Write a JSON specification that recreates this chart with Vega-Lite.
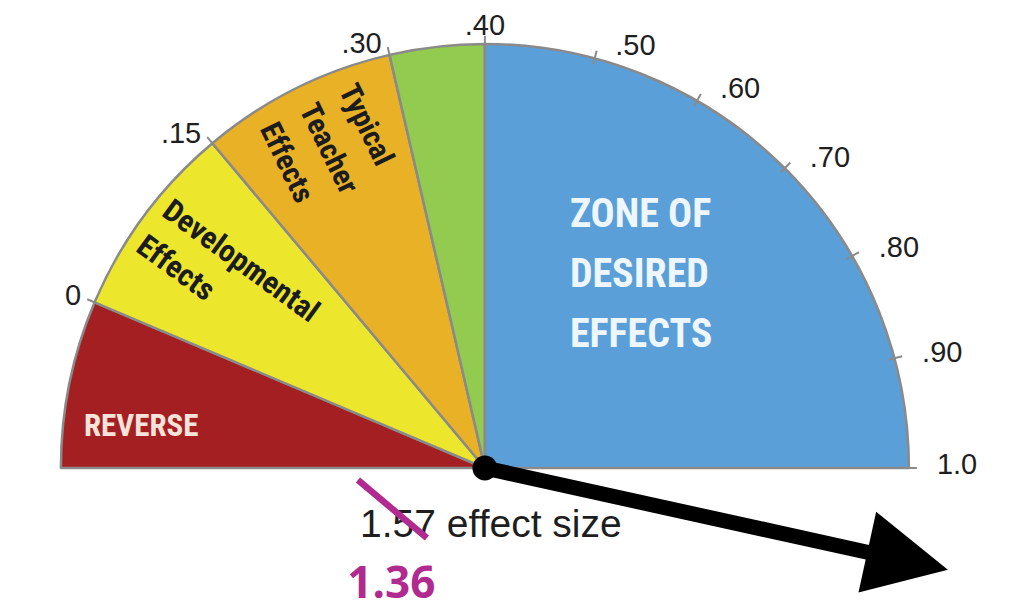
{
  "$schema": "https://vega.github.io/schema/vega-lite/v6.json",
  "width": 1022,
  "height": 611,
  "autosize": {"type": "fit", "contains": "padding"},
  "padding": 0,
  "background": "white",
  "config": {"view": {"stroke": null}},
  "datasets": {
    "zones": [
      {"zone": "Reverse", "from": -0.2, "to": 0, "label": "REVERSE"},
      {"zone": "Developmental", "from": 0, "to": 0.15, "label": ["Developmental", "Effects"]},
      {"zone": "Typical Teacher", "from": 0.15, "to": 0.3, "label": ["Typical", "Teacher", "Effects"]},
      {"zone": "Hinge", "from": 0.3, "to": 0.4, "label": ""},
      {"zone": "Desired", "from": 0.4, "to": 1.0, "label": ["ZONE OF", "DESIRED", "EFFECTS"]}
    ],
    "ticks": [
      {"v": 0, "label": "0"},
      {"v": 0.15, "label": ".15"},
      {"v": 0.3, "label": ".30"},
      {"v": 0.4, "label": ".40"},
      {"v": 0.5, "label": ".50"},
      {"v": 0.6, "label": ".60"},
      {"v": 0.7, "label": ".70"},
      {"v": 0.8, "label": ".80"},
      {"v": 0.9, "label": ".90"},
      {"v": 1.0, "label": "1.0"}
    ],
    "needle": [
      {"what": "1.57 effect size", "x": 0, "y": 0, "x_end": 0.9229, "y_end": -0.2033, "x_head": 0.9877, "y_head": -0.2173}
    ],
    "notes": [
      {"what": "old", "text": "1.57 effect size", "x": 0.014, "y": -0.1612},
      {"what": "new", "text": "1.36", "x": -0.2185, "y": -0.3037}
    ],
    "strike": [
      {"x": -0.2967, "y": -0.028, "x2": -0.1355, "y2": -0.1636}
    ]
  },
  "layer": [
    {
      "data": {"name": "zones"},
      "mark": {"type": "arc", "outerRadius": 424, "innerRadius": 0, "stroke": "#8a8a8a", "strokeWidth": 2.5, "strokeJoin": "round"},
      "encoding": {
        "x": {"datum": 0, "type": "quantitative", "scale": {"domain": [-1.133, 1.255], "nice": false, "zero": false}, "axis": null},
        "y": {"datum": 0, "type": "quantitative", "scale": {"domain": [-0.3341, 1.0935], "nice": false, "zero": false}, "axis": null},
        "theta": {"field": "from", "type": "quantitative", "stack": null, "scale": {"type": "linear", "domain": [-0.2, 0, 0.15, 0.3, 0.4, 1.0], "range": [-1.5708, -1.1694, -0.6981, -0.2269, 0, 1.5708], "nice": false, "zero": false}},
        "theta2": {"field": "to"},
        "fill": {"field": "zone", "type": "nominal", "legend": null, "scale": {"domain": ["Reverse", "Developmental", "Typical Teacher", "Hinge", "Desired"], "range": ["#a41f22", "#ece72c", "#e8b126", "#92cb4f", "#5b9fd9"]}}
      }
    },
    {
      "data": {"name": "ticks"},
      "mark": {"type": "arc", "outerRadius": 432, "innerRadius": 418, "stroke": "#8a8a8a", "strokeWidth": 2, "fill": null},
      "encoding": {
        "x": {"datum": 0, "type": "quantitative", "axis": null},
        "y": {"datum": 0, "type": "quantitative", "axis": null},
        "theta": {"field": "v", "type": "quantitative", "stack": null},
        "theta2": {"field": "v"}
      }
    },
    {
      "data": {"name": "ticks"},
      "transform": [{"filter": "datum.v < 0.4"}],
      "mark": {"type": "text", "radius": 432, "align": "right", "baseline": "middle", "dx": -6, "dy": -3, "font": "Liberation Sans", "fontSize": 29, "fill": "#1e1e1e"},
      "encoding": {
        "x": {"datum": 0, "type": "quantitative", "axis": null},
        "y": {"datum": 0, "type": "quantitative", "axis": null},
        "theta": {"field": "v", "type": "quantitative", "stack": null},
        "text": {"field": "label", "type": "nominal"}
      }
    },
    {
      "data": {"name": "ticks"},
      "transform": [{"filter": "datum.v == 0.4"}],
      "mark": {"type": "text", "radius": 442, "align": "center", "baseline": "middle", "font": "Liberation Sans", "fontSize": 29, "fill": "#1e1e1e"},
      "encoding": {
        "x": {"datum": 0, "type": "quantitative", "axis": null},
        "y": {"datum": 0, "type": "quantitative", "axis": null},
        "theta": {"field": "v", "type": "quantitative", "stack": null},
        "text": {"field": "label", "type": "nominal"}
      }
    },
    {
      "data": {"name": "ticks"},
      "transform": [{"filter": "datum.v > 0.4"}],
      "mark": {"type": "text", "radius": 434, "align": "left", "baseline": "middle", "dx": 18, "dy": -3, "font": "Liberation Sans", "fontSize": 29, "fill": "#1e1e1e"},
      "encoding": {
        "x": {"datum": 0, "type": "quantitative", "axis": null},
        "y": {"datum": 0, "type": "quantitative", "axis": null},
        "theta": {"field": "v", "type": "quantitative", "stack": null},
        "text": {"field": "label", "type": "nominal"}
      }
    },
    {
      "data": {"name": "zones"},
      "transform": [{"filter": "datum.zone == 'Reverse'"}],
      "mark": {"type": "text", "align": "left", "baseline": "middle", "font": "Roboto Condensed, Liberation Sans Narrow, Roboto, sans-serif", "fontWeight": "bold", "fontSize": 31, "fill": "#f7e3da"},
      "encoding": {
        "x": {"datum": -0.9369, "type": "quantitative", "axis": null},
        "y": {"datum": 0.0958, "type": "quantitative", "axis": null},
        "text": {"field": "label", "type": "nominal"}
      }
    },
    {
      "data": {"name": "zones"},
      "transform": [{"filter": "datum.zone == 'Developmental'"}],
      "mark": {"type": "text", "align": "left", "baseline": "middle", "angle": 36, "lineHeight": 44, "font": "Roboto Condensed, Liberation Sans Narrow, Roboto, sans-serif", "fontWeight": "bold", "fontSize": 31, "fill": "#1c1c1c"},
      "encoding": {
        "x": {"datum": -0.7458, "type": "quantitative", "axis": null},
        "y": {"datum": 0.6082, "type": "quantitative", "axis": null},
        "text": {"field": "label", "type": "nominal"}
      }
    },
    {
      "data": {"name": "zones"},
      "transform": [{"filter": "datum.zone == 'Typical Teacher'"}],
      "mark": {"type": "text", "align": "left", "baseline": "middle", "angle": 64, "lineHeight": 44, "font": "Roboto Condensed, Liberation Sans Narrow, Roboto, sans-serif", "fontWeight": "bold", "fontSize": 30, "fill": "#1c1c1c"},
      "encoding": {
        "x": {"datum": -0.3229, "type": "quantitative", "axis": null},
        "y": {"datum": 0.8921, "type": "quantitative", "axis": null},
        "text": {"field": "label", "type": "nominal"}
      }
    },
    {
      "data": {"name": "zones"},
      "transform": [{"filter": "datum.zone == 'Desired'"}],
      "mark": {"type": "text", "align": "left", "baseline": "middle", "lineHeight": 60, "font": "Roboto Condensed, Liberation Sans Narrow, Roboto, sans-serif", "fontWeight": "bold", "fontSize": 40, "fill": "#eef6ff"},
      "encoding": {
        "x": {"datum": 0.1986, "type": "quantitative", "axis": null},
        "y": {"datum": 0.5911, "type": "quantitative", "axis": null},
        "text": {"field": "label", "type": "nominal"}
      }
    },
    {
      "data": {"name": "needle"},
      "mark": {"type": "rule", "stroke": "black", "strokeWidth": 15, "strokeCap": "butt"},
      "encoding": {
        "x": {"field": "x", "type": "quantitative", "axis": null},
        "y": {"field": "y", "type": "quantitative", "axis": null},
        "x2": {"field": "x_end"},
        "y2": {"field": "y_end"}
      }
    },
    {
      "data": {"name": "needle"},
      "mark": {"type": "point", "shape": "M-1,-1L1,0L-1,1Z", "size": 6806, "angle": 12.4, "filled": true, "fill": "black", "stroke": null, "opacity": 1},
      "encoding": {
        "x": {"field": "x_head", "type": "quantitative", "axis": null},
        "y": {"field": "y_head", "type": "quantitative", "axis": null}
      }
    },
    {
      "data": {"name": "needle"},
      "mark": {"type": "point", "shape": "circle", "size": 620, "filled": true, "fill": "black", "stroke": null, "opacity": 1},
      "encoding": {
        "x": {"field": "x", "type": "quantitative", "axis": null},
        "y": {"field": "y", "type": "quantitative", "axis": null}
      }
    },
    {
      "data": {"name": "notes"},
      "transform": [{"filter": "datum.what == 'old'"}],
      "mark": {"type": "text", "align": "center", "baseline": "alphabetic", "font": "Liberation Sans", "fontSize": 39, "fill": "#1e1e1e"},
      "encoding": {
        "x": {"field": "x", "type": "quantitative", "axis": null},
        "y": {"field": "y", "type": "quantitative", "axis": null},
        "text": {"field": "text", "type": "nominal"}
      }
    },
    {
      "data": {"name": "strike"},
      "mark": {"type": "rule", "stroke": "#b12a8f", "strokeWidth": 6.5, "strokeCap": "butt"},
      "encoding": {
        "x": {"field": "x", "type": "quantitative", "axis": null},
        "y": {"field": "y", "type": "quantitative", "axis": null},
        "x2": {"field": "x2"},
        "y2": {"field": "y2"}
      }
    },
    {
      "data": {"name": "notes"},
      "transform": [{"filter": "datum.what == 'new'"}],
      "mark": {"type": "text", "align": "center", "baseline": "alphabetic", "font": "Open Sans", "fontWeight": "bold", "fontSize": 44, "fill": "#b12a8f"},
      "encoding": {
        "x": {"field": "x", "type": "quantitative", "axis": null},
        "y": {"field": "y", "type": "quantitative", "axis": null},
        "text": {"field": "text", "type": "nominal"}
      }
    }
  ]
}
